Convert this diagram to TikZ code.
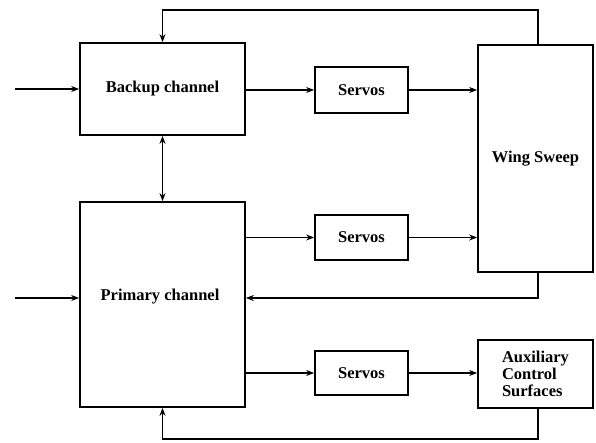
\documentclass[tikz,border=0pt]{standalone}
\usepackage{fontspec}
\setmainfont{Liberation Serif}
\usetikzlibrary{arrows.meta}
\begin{document}
\begin{tikzpicture}[x=1pt,y=-1pt,
  blk/.style={draw, line width=1.7pt, inner sep=0pt, font=\fontsize{16.5}{18}\selectfont\bfseries},
  conn/.style={line width=1.5pt, -{Stealth[length=8pt,width=6pt]}},
  plain/.style={line width=1.5pt}]
\useasboundingbox (0,0) rectangle (596,443);
\node[blk, minimum width=165, minimum height=92] (backup) at (162.5,89) {Backup channel};
\node[blk, minimum width=165, minimum height=205] (primary) at (162.5,304.5) {};
\node[font=\fontsize{16.5}{18}\selectfont\bfseries] (ptext) at (160,297) {Primary channel};
\node[blk, minimum width=93, minimum height=46] (s1) at (361.5,90) {Servos};
\node[blk, minimum width=93, minimum height=45] (s2) at (361.5,237.5) {Servos};
\node[blk, minimum width=93, minimum height=44] (s3) at (361.5,373) {Servos};
\node[blk, minimum width=115, minimum height=227] (wing) at (535.5,158.5) {Wing Sweep};
\node[blk, minimum width=115, minimum height=68, align=left, font=\fontsize{16.5}{17}\selectfont\bfseries] (aux) at (535.5,374) {Auxiliary\\Control\\Surfaces};
\coordinate (in1) at (15,89);
\coordinate (in2) at (15,298);
\draw[conn] (in1) -- (backup.west);
\draw[conn] (in2) -- (in2 -| primary.west);
\draw[line width=1.5pt, {Stealth[length=8pt,width=6pt]}-{Stealth[length=8pt,width=6pt]}] (backup.south) -- (primary.north);
\draw[conn] (backup.east |- s1.west) -- (s1.west);
\draw[conn] (s1.east) -- (s1.east -| wing.west);
\draw[conn] (s2.west -| primary.east) -- (s2.west);
\draw[conn] (s2.east) -- (s2.east -| wing.west);
\draw[conn] (s3.west -| primary.east) -- (s3.west);
\draw[conn] (s3.east) -- (s3.east -| aux.west);
\coordinate (wt) at (538,10);
\coordinate (wb) at (538,298);
\coordinate (ab) at (538,439);
\draw[conn] (wing.north -| wt) -- (wt) -- (wt -| backup.north) -- (backup.north);
\draw[conn] (wing.south -| wb) -- (wb) -- (wb -| primary.east);
\draw[conn] (aux.south -| ab) -- (ab) -- (ab -| primary.south) -- (primary.south);
\end{tikzpicture}
\end{document}
